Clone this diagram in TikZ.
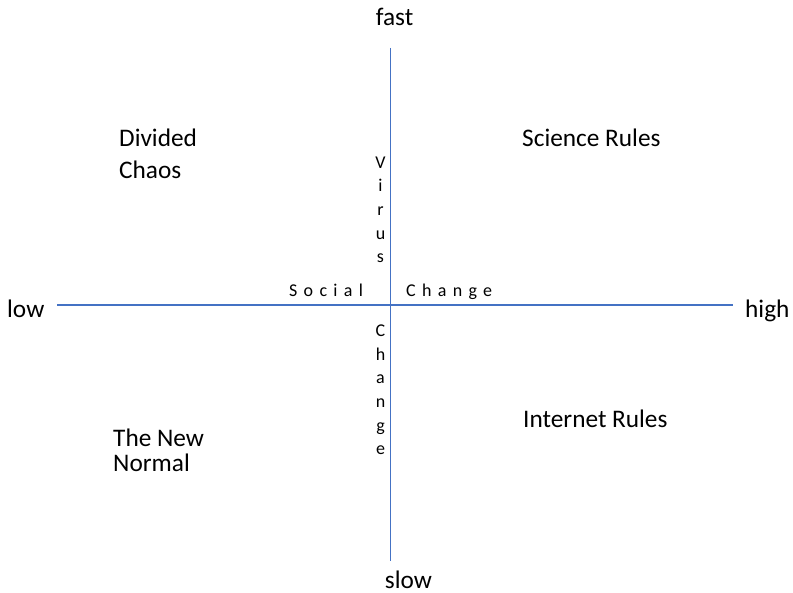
\documentclass[tikz,border=0pt]{standalone}
\usepackage{fontspec}
\setmainfont{Carlito}
\definecolor{axisblue}{RGB}{68,114,196}
\begin{document}
\begin{tikzpicture}[x=1pt,y=-1pt,
  axisline/.style={draw=axisblue, line width=1.1pt},
  big/.style={font=\fontsize{25.3}{29}\selectfont, inner sep=0pt},
  small/.style={font=\fontsize{18}{23.7}\selectfont, inner sep=0pt},
  spaced/.style={font=\fontsize{18}{22}\selectfont\addfontfeature{LetterSpace=35}, inner sep=0pt},
]
\useasboundingbox[fill=white] (0,0) rectangle (793,593);
\coordinate (L) at (57,305);
\coordinate (R) at (733,305);
\coordinate (T) at (390.5,48);
\coordinate (B) at (390.5,561);
\draw[axisline] (L) -- (R);
\draw[axisline] (T) -- (B);
\node[big, anchor=base] (fast) at (394.5,26) {fast};
\node[big, anchor=base] (slow) at (408.5,588) {slow};
\node[big, anchor=base west] (low) at (7,318) {low};
\node[big, anchor=base west] (high) at (745,318) {high};
\node[big, anchor=base west, align=left, font=\fontsize{25.3}{32}\selectfont] (dc) at (119,179) {Divided\\Chaos};
\node[big, anchor=base west] (sr) at (522,147) {Science Rules};
\node[big, anchor=base west] (ir) at (523,428) {Internet Rules};
\node[big, anchor=base west, align=left, font=\fontsize{25.3}{25}\selectfont] (tnn) at (113,472) {The New\\Normal};
\node[spaced, anchor=base west] (social) at (289,297) {Social};
\node[spaced, anchor=base west] (change) at (406,297) {Change};
\node[small, align=center, anchor=base] (virus) at (380.5,263) {V\\i\\r\\u\\s};
\node[small, align=center, anchor=base] (vchange) at (380.5,455) {C\\h\\a\\n\\g\\e};
\end{tikzpicture}
\end{document}
